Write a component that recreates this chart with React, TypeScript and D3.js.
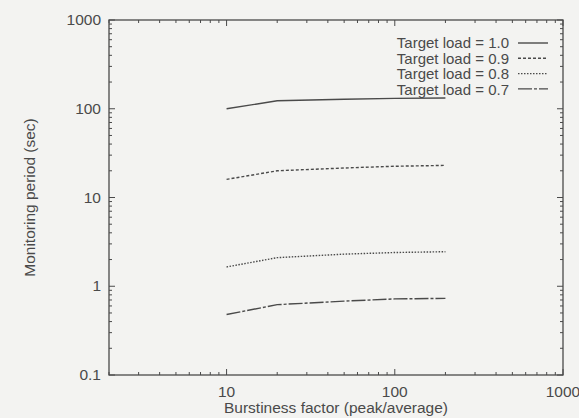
import React from "react";
import * as d3 from "d3";

// burstiness factor (peak/average)
const burstiness = [10, 20, 50, 100, 200];

const load10 = [100, 123, 128, 131, 132];
const load09 = [16, 20, 21.5, 22.5, 23];
const load08 = [1.65, 2.1, 2.3, 2.4, 2.45];
const load07 = [0.48, 0.62, 0.68, 0.72, 0.73];

const seriesLabels = ["Target load = 1.0", "Target load = 0.9", "Target load = 0.8", "Target load = 0.7"];
const seriesDash = ["none", "3,2", "1.5,1.5", "14,2,3,2"];

const xTicks = [10, 100, 1000];
const yTicks = [0.1, 1, 10, 100, 1000];

const W = 579;
const H = 418;
const margin = { top: 20, right: 16, bottom: 43, left: 109 };
const ink = "#4a4a4a";
const font = "'Liberation Sans', Arial, sans-serif";
const fs = 15.5;

function App() {
  const x = d3.scaleLog().domain([2, 1000]).range([margin.left, W - margin.right]);
  const y = d3.scaleLog().domain([0.1, 1000]).range([H - margin.bottom, margin.top]);

  const series = [load10, load09, load08, load07];
  const line = d3
    .line<[number, number]>()
    .x(d => x(d[0]))
    .y(d => y(d[1]));

  // minor ticks for both axes
  const xMinor = x.ticks().filter(v => v >= 2 && v <= 1000);
  const yMinor = y.ticks().filter(v => v >= 0.1 && v <= 1000);
  const isMajor = (v: number) => Math.abs(Math.log10(v) - Math.round(Math.log10(v))) < 1e-6;

  const [x0, x1] = x.range();
  const [y0, y1] = y.range();

  return (
    <svg width={W} height={H} style={{ position: "absolute", left: 0, top: 0, background: "#f3f3f1" }}>
      <rect x={0} y={0} width={W} height={H} fill="#f3f3f1" />
      {/* frame */}
      <rect x={x0} y={y1} width={x1 - x0} height={y0 - y1} fill="none" stroke={ink} strokeWidth={1.3} />

      {/* x ticks, bottom and top, inward */}
      {xMinor.map((v, i) => {
        const len = isMajor(v) ? 6 : 3;
        return (
          <g key={"xt" + i} stroke={ink} strokeWidth={1}>
            <line x1={x(v)} x2={x(v)} y1={y0} y2={y0 - len} />
            <line x1={x(v)} x2={x(v)} y1={y1} y2={y1 + len} />
          </g>
        );
      })}
      {/* y ticks, left and right, inward */}
      {yMinor.map((v, i) => {
        const len = isMajor(v) ? 6 : 3;
        return (
          <g key={"yt" + i} stroke={ink} strokeWidth={1}>
            <line x1={x0} x2={x0 + len} y1={y(v)} y2={y(v)} />
            <line x1={x1} x2={x1 - len} y1={y(v)} y2={y(v)} />
          </g>
        );
      })}

      {/* tick labels */}
      {xTicks.map(v => (
        <text key={"xl" + v} x={x(v)} y={397} textAnchor="middle" fontFamily={font} fontSize={fs} fill={ink}>
          {v}
        </text>
      ))}
      {yTicks.map(v => (
        <text key={"yl" + v} x={x0 - 8} y={y(v) + 5} textAnchor="end" fontFamily={font} fontSize={fs} fill={ink}>
          {v}
        </text>
      ))}

      {/* axis titles */}
      <text x={336} y={413} textAnchor="middle" fontFamily={font} fontSize={fs} fill={ink}>
        Burstiness factor (peak/average)
      </text>
      <text
        transform={`translate(35, ${(y0 + y1) / 2}) rotate(-90)`}
        textAnchor="middle"
        fontFamily={font}
        fontSize={fs}
        fill={ink}
      >
        Monitoring period (sec)
      </text>

      {/* data lines */}
      {series.map((vals, i) => (
        <path
          key={"s" + i}
          d={line(burstiness.map((b, j) => [b, vals[j]] as [number, number])) || ""}
          fill="none"
          stroke={ink}
          strokeWidth={1.4}
          strokeDasharray={seriesDash[i]}
        />
      ))}

      {/* legend */}
      {seriesLabels.map((lab, i) => (
        <g key={"lg" + i}>
          <text x={509} y={48 + i * 15.6} textAnchor="end" fontFamily={font} fontSize={fs - 0.5} fill={ink}>
            {lab}
          </text>
          <line
            x1={518}
            x2={548}
            y1={43 + i * 15.3}
            y2={43 + i * 15.3}
            stroke={ink}
            strokeWidth={1.4}
            strokeDasharray={seriesDash[i]}
          />
        </g>
      ))}
    </svg>
  );
}

export default App;
